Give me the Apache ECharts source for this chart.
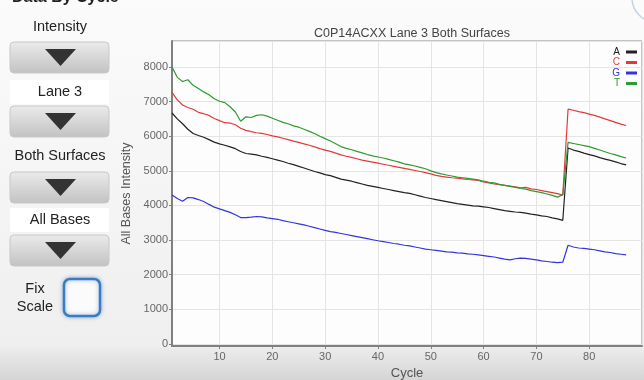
<!DOCTYPE html>
<html>
<head>
<meta charset="utf-8">
<script src="https://cdn.jsdelivr.net/npm/echarts@6/dist/echarts.min.js"></script>
<style>
  html, body { margin: 0; padding: 0; background: #f3f3f3; }
  #main { width: 644px; height: 380px; }
</style>
</head>
<body>
<div id="main"></div>
<script>
const chartTitle = 'C0P14ACXX Lane 3 Both Surfaces';
const bases = ['A', 'C', 'G', 'T'];
const baseColors = ['#222222', '#e23a3a', '#3434dc', '#2f9a2f'];
const controlLabels = ['Intensity', 'Lane 3', 'Both Surfaces', 'All Bases'];

// intensity per cycle, cycles 1..87
const intensityA = [
	6670, 6500, 6360, 6200, 6080, 6020, 5970, 5900, 5830, 5780,
	5740, 5690, 5640, 5560, 5500, 5480, 5460, 5420, 5390, 5350,
	5310, 5270, 5220, 5180, 5130, 5080, 5030, 4980, 4940, 4890,
	4860, 4810, 4760, 4730, 4700, 4660, 4620, 4580, 4550, 4520,
	4490, 4460, 4430, 4400, 4370, 4350, 4310, 4270, 4230, 4200,
	4170, 4140, 4110, 4080, 4050, 4030, 4010, 3990, 3980, 3960,
	3940, 3910, 3880, 3850, 3830, 3810, 3800, 3780, 3750, 3730,
	3700, 3680, 3640, 3610, 3570, 5660, 5600, 5560, 5510, 5470,
	5430, 5380, 5340, 5300, 5260, 5210, 5170
];
const intensityC = [
	7265, 7050, 6900, 6830, 6780, 6690, 6650, 6600, 6510, 6450,
	6390, 6380, 6330, 6230, 6170, 6130, 6100, 6080, 6050, 6010,
	5980, 5940, 5900, 5860, 5820, 5780, 5740, 5690, 5640, 5600,
	5560, 5510, 5460, 5420, 5390, 5350, 5310, 5280, 5250, 5220,
	5190, 5160, 5130, 5100, 5070, 5040, 5010, 4980, 4950, 4910,
	4870, 4840, 4820, 4800, 4790, 4770, 4750, 4740, 4720, 4680,
	4650, 4620, 4600, 4580, 4560, 4540, 4510, 4520, 4480, 4460,
	4430, 4400, 4370, 4340, 4300, 6780, 6750, 6710, 6680, 6640,
	6600, 6550, 6500, 6450, 6400, 6350, 6310
];
const intensityG = [
	4305, 4200, 4120, 4230, 4220, 4170, 4115, 4030, 3950, 3900,
	3850, 3800, 3730, 3650, 3650, 3660, 3680, 3670, 3640, 3620,
	3600, 3560, 3530, 3500, 3470, 3440, 3400, 3360, 3320, 3280,
	3245, 3220, 3190, 3160, 3130, 3100, 3070, 3040, 3010, 2980,
	2955, 2930, 2900, 2880, 2850, 2830, 2800, 2770, 2740, 2720,
	2700, 2680, 2660, 2650, 2630, 2620, 2600, 2590, 2570, 2550,
	2530, 2510, 2480, 2450, 2430, 2460, 2480, 2470, 2450, 2430,
	2400, 2380, 2360, 2350, 2360, 2850, 2800, 2770, 2760, 2740,
	2720, 2690, 2660, 2640, 2610, 2590, 2570
];
const intensityT = [
	8000, 7700, 7580, 7630, 7470, 7380, 7280, 7200, 7080, 7010,
	6970, 6850, 6700, 6430, 6560, 6540, 6600, 6620, 6580, 6520,
	6460, 6400, 6360, 6300, 6260, 6200, 6140, 6080, 6000, 5930,
	5860, 5780, 5700, 5650, 5610, 5560, 5520, 5470, 5430, 5400,
	5370, 5330, 5290, 5250, 5200, 5170, 5140, 5100, 5060, 5000,
	4950, 4910, 4880, 4850, 4820, 4800, 4780, 4760, 4740, 4700,
	4670, 4650, 4610, 4580, 4550, 4520, 4490, 4470, 4430, 4400,
	4370, 4330, 4290, 4240, 4310, 5820, 5790, 5760, 5730, 5700,
	5650, 5600, 5550, 5500, 5460, 5410, 5370
];
const firstCycle = 1;

const chart = echarts.init(document.getElementById('main'), null, { renderer: 'canvas' });
const font = '"Liberation Sans", Arial, sans-serif';

const seriesValues = [intensityA, intensityC, intensityG, intensityT];
const series = bases.map(function (b, i) {
	return {
		name: b,
		type: 'line',
		showSymbol: false,
		symbol: 'none',
		animation: false,
		lineStyle: { color: baseColors[i], width: 1.2 },
		itemStyle: { color: baseColors[i] },
		data: seriesValues[i].map(function (v, k) { return [firstCycle + k, v]; })
	};
});

// left-hand controls: label, then a drop-down button
function button(y) {
	return [
		{
			type: 'rect', shape: { x: 10, y: y, width: 99, height: 31, r: 4 },
			style: {
				fill: new echarts.graphic.LinearGradient(0, 0, 0, 1, [
					{ offset: 0, color: '#ebebeb' }, { offset: 1, color: '#c2c2c2' }
				]),
				stroke: '#c8c8c8', lineWidth: 1
			}
		},
		{
			type: 'polygon', shape: { points: [[45, y + 7], [76, y + 7], [60.5, y + 24]] },
			style: { fill: '#333333' }
		}
	];
}
function label(text, y, boxed) {
	const out = [];
	if (boxed) {
		out.push({ type: 'rect', shape: { x: 10, y: y - 12, width: 99, height: 24 }, style: { fill: '#ffffff' } });
	}
	out.push({
		type: 'text', x: 60, y: y,
		style: { text: text, font: '14.5px ' + font, fill: '#222', align: 'center', verticalAlign: 'middle' }
	});
	return out;
}

const graphics = [
	{
		type: 'rect', z: -10, shape: { x: 0, y: 0, width: 644, height: 348 },
		style: {
			fill: new echarts.graphic.LinearGradient(0, 0, 0, 1, [
				{ offset: 0, color: '#fbfbfb' }, { offset: 1, color: '#efefef' }
			])
		}
	},
	{
		type: 'rect', z: -10, shape: { x: 0, y: 348, width: 644, height: 32 },
		style: {
			fill: new echarts.graphic.LinearGradient(0, 0, 0, 1, [
				{ offset: 0, color: '#ececec' }, { offset: 1, color: '#d5d5d5' }
			])
		}
	},
	{
		type: 'text', x: 12, y: -10,
		style: { text: 'Data By Cycle', font: 'bold 16px ' + font, fill: '#222' }
	},
	{
		type: 'circle', shape: { cx: 656, cy: -2, r: 24 },
		style: { fill: 'none', stroke: '#c5d3e3', lineWidth: 1.5 }
	}
]
	.concat(label(controlLabels[0], 27, false))
	.concat(button(42))
	.concat(label(controlLabels[1], 92, true))
	.concat(button(106))
	.concat(label(controlLabels[2], 156, false))
	.concat(button(172))
	.concat(label(controlLabels[3], 220, true))
	.concat(button(235))
	.concat([
		{
			type: 'text', x: 35, y: 298,
			style: { text: 'Fix\nScale', font: '14.5px ' + font, fill: '#222', align: 'center', verticalAlign: 'middle', lineHeight: 18 }
		},
		{
			type: 'rect', shape: { x: 64, y: 279, width: 36, height: 37, r: 6 },
			style: { fill: '#fbfbfb', stroke: '#3c7bc0', lineWidth: 2.5, shadowBlur: 4, shadowColor: 'rgba(60,123,192,0.5)' }
		}
	]);

const option = {
	animation: false,
	textStyle: { fontFamily: font },
	title: {
		text: chartTitle,
		left: 407,
		top: 22,
		textAlign: 'center',
		textStyle: { fontSize: 12.5, fontWeight: 'normal', color: '#444', fontFamily: font }
	},
	legend: {
		orient: 'vertical',
		right: 7,
		top: 47,
		align: 'right',
		itemWidth: 11,
		itemHeight: 3,
		itemGap: 0.5,
		icon: 'rect',
		data: bases.map(function (b, i) {
			return { name: b, textStyle: { color: baseColors[i] } };
		}),
		textStyle: { fontSize: 10, lineHeight: 10, padding: [0, 1, 0, 0], fontFamily: font },
		padding: 0
	},
	grid: {
		left: 172, right: 2, top: 41, bottom: 34,
		outerBoundsMode: 'none',
		containLabel: false,
		show: true,
		backgroundColor: '#fdfdfd',
		borderColor: '#8c8c8c',
		borderWidth: 1
	},
	xAxis: {
		type: 'value',
		min: 1,
		max: 90,
		splitNumber: 9,
		minInterval: 10,
		maxInterval: 10,
		name: 'Cycle',
		nameLocation: 'middle',
		nameGap: 18,
		nameTextStyle: { fontSize: 13, color: '#555' },
		axisLine: { onZero: false, lineStyle: { color: '#808080', width: 2 } },
		axisTick: { length: 3, lineStyle: { color: '#808080' } },
		axisLabel: { fontSize: 11, color: '#666', margin: 5, showMinLabel: false, showMaxLabel: false },
		splitLine: { show: true, lineStyle: { color: '#e4e4e4' } }
	},
	yAxis: {
		type: 'value',
		min: -60,
		max: 8750,
		splitNumber: 9,
		minInterval: 1000,
		maxInterval: 1000,
		name: 'All Bases Intensity',
		nameLocation: 'middle',
		nameGap: 30,
		nameTextStyle: { fontSize: 12.5, color: '#555' },
		axisLine: { show: true, lineStyle: { color: '#808080', width: 2 } },
		axisTick: { show: true, length: 3, lineStyle: { color: '#808080' } },
		axisLabel: {
			fontSize: 11, color: '#666', margin: 4, showMinLabel: false, showMaxLabel: false,
			formatter: function (v) { return String(v); }
		},
		splitLine: { show: true, lineStyle: { color: '#e4e4e4' } }
	},
	graphic: graphics,
	series: series
};
chart.setOption(option);
</script>
</body>
</html>
